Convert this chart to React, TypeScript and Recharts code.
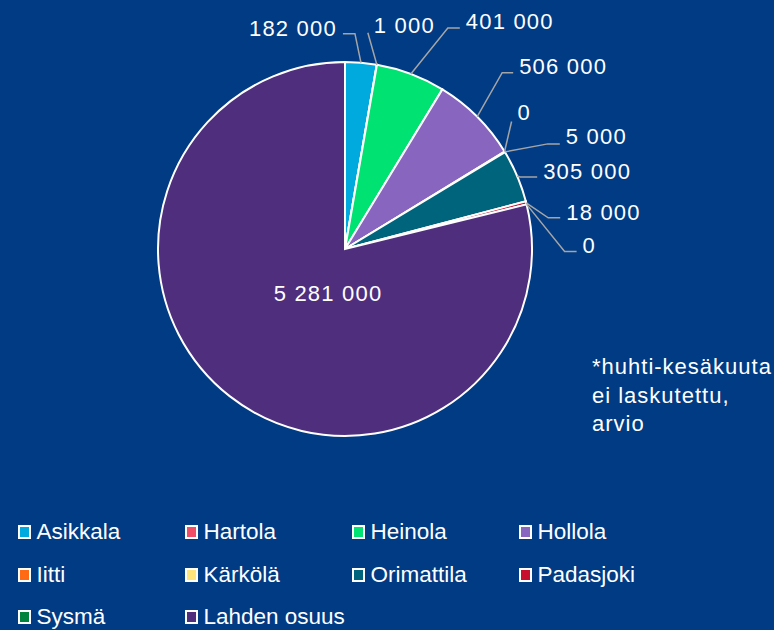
import React from 'react';
import { PieChart, Pie, Cell, Legend } from 'recharts';

const categories = ['Asikkala', 'Hartola', 'Heinola', 'Hollola', 'Iitti', 'Kärkölä', 'Orimattila', 'Padasjoki', 'Sysmä', 'Lahden osuus'];
const values = [182000, 1000, 401000, 506000, 0, 5000, 305000, 18000, 0, 5281000];
const colors = ['#00A9DE', '#F24D66', '#00E272', '#8865BE', '#FF6A13', '#FFE47A', '#00647C', '#C8102E', '#00843D', '#4F2F7D'];
const noteLines = ['*huhti-kesäkuuta', 'ei laskutettu,', 'arvio'];

const data = categories.map((name, i) => ({ name, value: values[i] }));

// leader line layout per label: elbow offset from slice edge, horizontal run, text side
const labelLayout = [
  { dx: -6, dy: -29, h: -12, by: 2, side: 'left' },
  { dx: -9, dy: -32, h: 0, by: 0, side: 'right' },
  { dx: 37, dy: -46, h: 12, by: 1, side: 'right' },
  { dx: 25, dy: -44, h: 11, by: 1, side: 'right' },
  { dx: 7, dy: -30, h: 0, by: -2, side: 'right' },
  { dx: 43, dy: -8, h: 12, by: 0, side: 'right' },
  { dx: 3, dy: 1, h: 17, by: 2, side: 'right' },
  { dx: 22, dy: 15, h: 12, by: 2, side: 'right' },
  { dx: 38, dy: 47, h: 12, by: 2, side: 'right' },
  { dx: -17, dy: 52, h: 0, by: 0, side: 'inside' },
];

const BG = '#003B84';
const FONT = "'Liberation Sans', Arial, sans-serif";
const RADIAN = Math.PI / 180;

const fmt = (v: number) => String(v).replace(/\B(?=(\d{3})+(?!\d))/g, ' ');

const renderLabel = (props: any) => {
  const { cx, cy, midAngle, outerRadius, index, value } = props;
  const l = labelLayout[index];
  const textStyle = { fontFamily: FONT, fontSize: 22, letterSpacing: 1.2 };
  if (l.side === 'inside') {
    return (
      <text x={cx + l.dx} y={cy + l.dy} fill="#fff" textAnchor="middle" style={textStyle}>
        {fmt(value)}
      </text>
    );
  }
  const ax = cx + outerRadius * Math.cos(-midAngle * RADIAN);
  const ay = cy + outerRadius * Math.sin(-midAngle * RADIAN);
  const ex = ax + l.dx;
  const ey = ay + l.dy;
  const hx = ex + l.h;
  const left = l.side === 'left';
  const tx = left ? hx - 6 : hx + 6;
  return (
    <g>
      <polyline points={`${ax},${ay} ${ex},${ey} ${hx},${ey}`} fill="none" stroke="#A5A5A5" strokeWidth={1.5} />
      <text x={tx} y={ey + l.by} fill="#fff" textAnchor={left ? 'end' : 'start'} style={textStyle}>
        {fmt(value)}
      </text>
    </g>
  );
};

const renderLegend = (props: any) => {
  const items = [...(props.payload || [])].sort(
    (a: any, b: any) => categories.indexOf(a.value) - categories.indexOf(b.value)
  );
  return (
    <div style={{ position: 'relative', width: 774, height: 111 }}>
      {items.map((entry: any, i: number) => (
        <div
          key={entry.value}
          style={{
            position: 'absolute',
            left: 18 + (i % 4) * 167,
            top: Math.floor(i / 4) * 42.5,
            height: 26,
            lineHeight: '26px',
            fontFamily: FONT,
            fontSize: 22.5,
            color: '#fff',
            whiteSpace: 'nowrap',
          }}
        >
          <span
            style={{
              position: 'absolute',
              left: 0,
              top: 6,
              width: 9,
              height: 10,
              border: '2px solid #fff',
              background: entry.color,
            }}
          />
          <span style={{ position: 'absolute', left: 18.5, top: 0 }}>{entry.value}</span>
        </div>
      ))}
    </div>
  );
};

export default function App() {
  return (
    <div style={{ position: 'fixed', left: 0, top: 0, width: 774, height: 630, background: BG, overflow: 'hidden' }}>
      <PieChart width={774} height={630} margin={{ top: 0, right: 0, bottom: 0, left: 0 }}>
        <Pie
          data={data}
          dataKey="value"
          nameKey="name"
          cx={345}
          cy={249}
          outerRadius={187}
          startAngle={90}
          endAngle={-270}
          stroke="#fff"
          strokeWidth={2}
          label={renderLabel}
          labelLine={false}
          isAnimationActive={false}
        >
          {data.map((d, i) => (
            <Cell key={d.name} fill={colors[i]} />
          ))}
        </Pie>
        <Legend
          content={renderLegend}
          wrapperStyle={{ position: 'absolute', left: 0, top: 519, width: 774 }}
        />
      </PieChart>
      <div
        style={{
          position: 'absolute',
          left: 592,
          top: 353,
          fontFamily: FONT,
          fontSize: 22,
          letterSpacing: 1,
          lineHeight: '28.5px',
          color: '#fff',
          whiteSpace: 'nowrap',
        }}
      >
        {noteLines.map((t) => (
          <div key={t}>{t}</div>
        ))}
      </div>
    </div>
  );
}
